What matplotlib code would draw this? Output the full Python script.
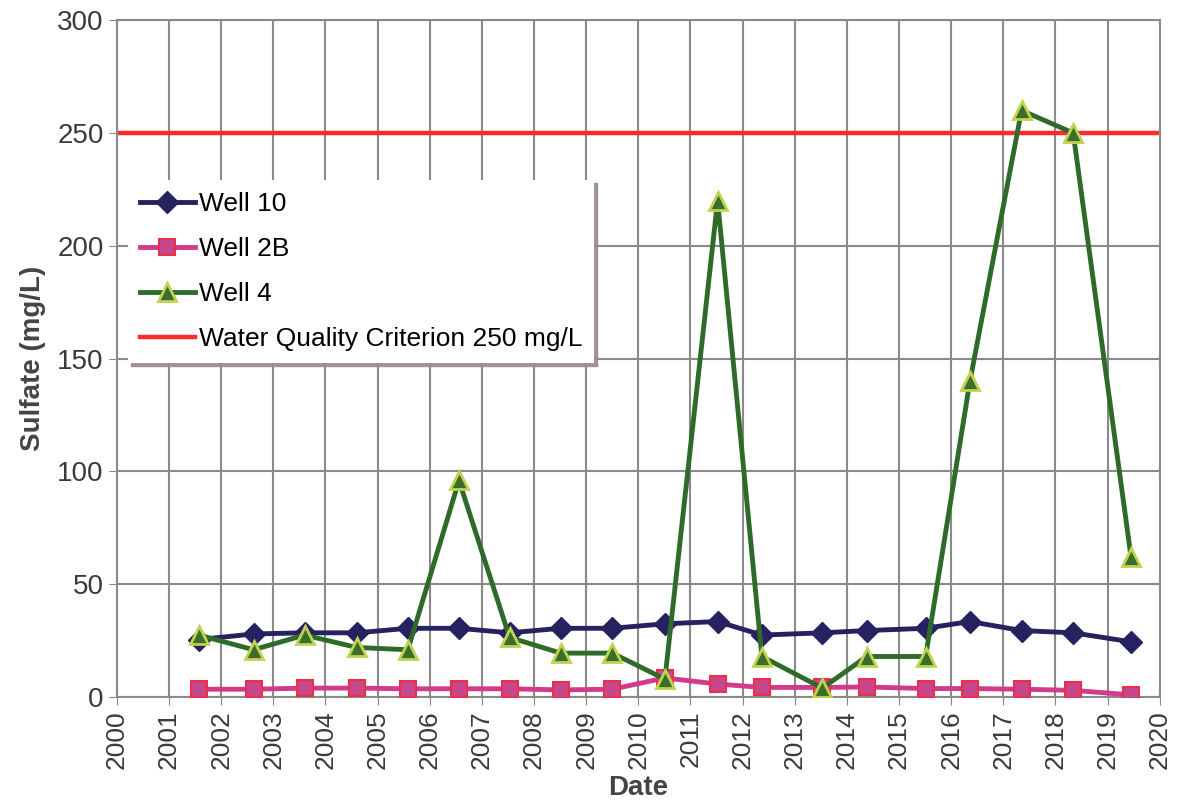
import matplotlib.pyplot as plt
import numpy as np

plt.rcParams['font.family'] = ['Liberation Sans', 'DejaVu Sans']

# sampling dates (decimal years)
dates = [2001.57, 2002.62, 2003.60, 2004.60, 2005.58, 2006.56, 2007.53, 2008.51,
         2009.50, 2010.51, 2011.52, 2012.37, 2013.53, 2014.38, 2015.51, 2016.36,
         2017.35, 2018.34, 2019.45]

well_10 = [25.5, 28, 28.5, 28.5, 30.5, 30.5, 28.5, 30.5, 30.5, 32.5, 33.5, 27.5,
           28.5, 29.5, 30.5, 33.5, 29.5, 28.5, 24.5]
well_2b = [3.5, 3.5, 4, 4, 3.7, 3.7, 3.7, 3.2, 3.5, 8.5, 5.8, 4.3, 4.3, 4.5,
           3.8, 3.8, 3.5, 3, 1]
well_4 = [27.5, 21, 27.5, 22, 21, 96, 26.5, 19.5, 19.5, 8, 220, 18, 4, 18,
          18, 140, 260, 250, 62]

criterion = 250
years = np.arange(2000, 2021)

fig = plt.figure(figsize=(11.81, 8.05), dpi=100)
ax = fig.add_axes([0.099, 0.134, 0.883, 0.841])

ax.plot(dates, well_10, color='#26215F', lw=3.5, marker='D', ms=11,
        mfc='#26215F', mec='#26215F', label='Well 10', zorder=3)
ax.plot(dates, well_2b, color='#D43A8A', lw=3.5, marker='s', ms=12,
        mfc='#C8468A', mec='#E8304A', mew=1.5, label='Well 2B', zorder=3)
ax.plot(dates, well_4, color='#2E6B2A', lw=3.5, marker='^', ms=13,
        mfc='#3A6E2A', mec='#C0D250', mew=2, label='Well 4', zorder=4)
ax.axhline(criterion, color='#FF2A2A', lw=3.2, label='Water Quality Criterion 250 mg/L',
           zorder=2)

ax.set_xlim(2000, 2020)
ax.set_ylim(0, 300)
ax.set_xticks(years)
ax.set_xticklabels([str(y) for y in years], rotation=90, fontsize=19, color='#3a3a3a')
ax.set_yticks(np.arange(0, 301, 50))
ax.tick_params(axis='y', labelsize=20, labelcolor='#3a3a3a', length=6, color='#888888')
ax.tick_params(axis='x', length=6, color='#888888')
ax.grid(True, color='#8a8a8a', lw=1.5)
ax.set_axisbelow(True)
for s in ax.spines.values():
    s.set_color('#8a8a8a')
    s.set_linewidth(1.5)

ax.set_xlabel('Date', fontsize=20, fontweight='bold', color='#444444', labelpad=4)
ax.set_ylabel('Sulfate (mg/L)', fontsize=20, fontweight='bold', color='#444444', labelpad=8)

leg = ax.legend(loc='upper left', bbox_to_anchor=(0.0105, 0.764), borderaxespad=0,
                fontsize=19, frameon=True, fancybox=False,
                shadow={'color': '#9a8a8a', 'alpha': 0.9},
                handlelength=2.1, handletextpad=0.15, labelspacing=0.8, borderpad=0.45)
leg.get_frame().set_edgecolor('none')
leg.get_frame().set_facecolor('white')
leg.get_frame().set_alpha(1)

fig.savefig('out.png', dpi=100, facecolor='white')
